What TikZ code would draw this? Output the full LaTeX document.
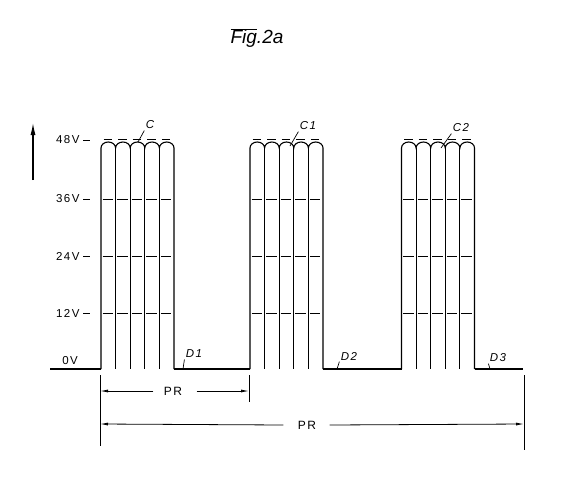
\documentclass[tikz,border=0pt]{standalone}
\usepackage{fontspec}
\setmainfont{Liberation Sans}
\newfontfamily\stencil[LetterSpace=12]{Liberation Sans}
\usetikzlibrary{arrows.meta}
\tikzset{
  lbl/.style={font=\stencil\fontsize{11.5}{13}\selectfont, inner sep=1pt},
  tag/.style={font=\stencil\fontsize{11.5}{13}\selectfont\itshape, inner sep=1pt},
  dim/.style={line width=0.8pt, -{Latex[length=8pt,width=3pt]}},
  lvl/.style={line width=0.9pt},
  lead/.style={line width=0.7pt},
}
\begin{document}
\begin{tikzpicture}[x=1pt,y=-1pt,line width=1.1pt]
\useasboundingbox (0,0) rectangle (568,488);
% title
\node[font=\fontsize{19}{21}\selectfont\itshape] (title) at (257,38)
  {$\overline{\mbox{\itshape Fig}}$.2a};
% upward arrow
\coordinate (up0) at (33,180);
\coordinate (up1) at (33,123);
\draw[-{Latex[length=12pt,width=5pt]}] (up0) -- (up1);
% voltage labels
\foreach \v/\y in {48/140,36/199,24/256,12/313}
{
\node[lbl,anchor=east] (v\v) at (81,\y) {\v V};
\draw[lvl] ([xshift=2pt]v\v.east) -- ++(7,0);
}
\node[lbl] (v0) at (70,361) {0V};
% baseline
\draw (50,369) -- (101,369);
\draw (174,369) -- (250,369);
\draw (323,369) -- (401.5,369);
\draw (474.5,369) -- (523,369);
% the three pulses
\foreach \p in {101,250,401.5}
{
\begin{scope}[shift={(\p,0)}]
\draw (0,369) -- (0,148)
  \foreach \k in {0,1,2,3,4} {arc[start angle=180,end angle=0,x radius=7.3pt,y radius=6pt]}
  -- (73,369);
\foreach \k in {1,2,3,4}
\draw (\k*14.6,148) -- (\k*14.6,369);
\foreach \k in {0,1,2,3,4}
{
\draw[lvl] (\k*14.6+2.5,139) -- (\k*14.6+11,139);
\foreach \y in {199,256,313}
\draw[lvl] (\k*14.6+1.5,\y) -- (\k*14.6+12,\y);
}
\end{scope}
}
% pulse tags
\node[tag] (c0) at (150,125) {C};
\coordinate (c0e) at (138,142);
\draw[lead] (c0.south west) -- (c0e);
\node[tag] (c1) at (308,126) {C1};
\coordinate (c1e) at (290,146);
\draw[lead] (c1.south west) -- (c1e);
\node[tag] (c2) at (461,128) {C2};
\coordinate (c2e) at (441,148);
\draw[lead] (c2.south west) -- (c2e);
% gap tags
\node[tag] (d1) at (194,354) {D1};
\coordinate (d1e) at (183,369);
\draw[lead] (d1.south west) -- (d1e);
\node[tag] (d2) at (349,356) {D2};
\coordinate (d2e) at (337,369);
\draw[lead] (d2.south west) -- (d2e);
\node[tag] (d3) at (498,358) {D3};
\coordinate (d3e) at (490,369);
\draw[lead] (d3.south west) -- (d3e);
% period marks
\draw[line width=0.9pt] (100,375) -- (100,446);
\draw[line width=0.9pt] (249,375) -- (249,402);
\draw[line width=0.9pt] (524,375) -- (524,450);
\node[lbl,font=\stencil\fontsize{12}{14}\selectfont,inner sep=0pt] (pr1) at (173,391) {PR};
\coordinate (pr1l) at (100,391);
\coordinate (pr1r) at (249,391);
\draw[dim] ([xshift=-10pt]pr1.west) -- (pr1l);
\draw[dim] ([xshift=14pt]pr1.east) -- (pr1r);
\node[lbl,font=\stencil\fontsize{12}{14}\selectfont,inner sep=0pt] (pr2) at (307,425) {PR};
\coordinate (pr2l) at (100,424);
\coordinate (pr2r) at (524,424);
\draw[dim] ([xshift=-14pt]pr2.west) -- (pr2l);
\draw[dim] ([xshift=13pt]pr2.east) -- (pr2r);
\end{tikzpicture}
\end{document}
